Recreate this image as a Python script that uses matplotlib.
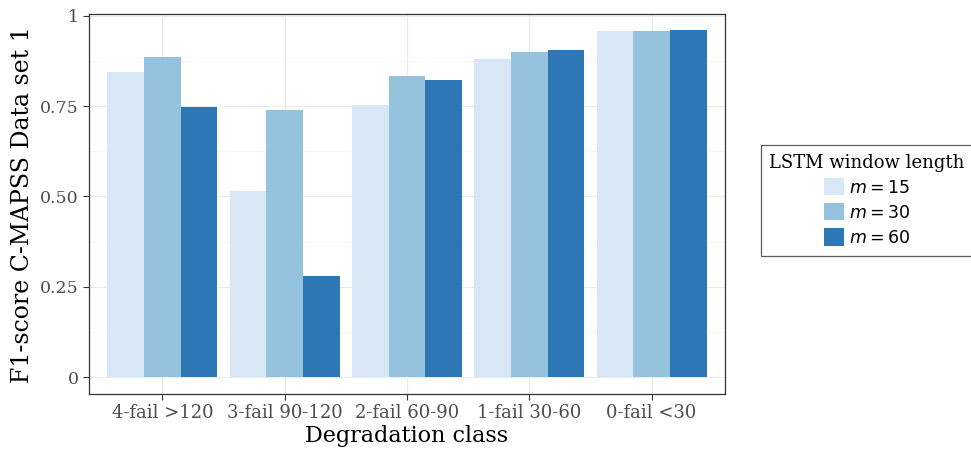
import matplotlib
matplotlib.use('Agg')
import matplotlib.pyplot as plt
import numpy as np

# data
classes = ["4-fail >120", "3-fail 90-120", "2-fail 60-90", "1-fail 30-60", "0-fail <30"]
f1_m15 = [0.845, 0.515, 0.753, 0.881, 0.957]
f1_m30 = [0.885, 0.740, 0.833, 0.899, 0.957]
f1_m60 = [0.748, 0.280, 0.822, 0.905, 0.960]
series_labels = ["$m = 15$", "$m = 30$", "$m = 60$"]
colors = ["#d8e7f5", "#95c3de", "#2d77b5"]

fig = plt.figure(figsize=(9.71, 4.55), dpi=100)
ax = fig.add_axes([0.0917, 0.134, 0.655, 0.835])

x = np.arange(len(classes))
width = 0.3
for i, (vals, lab, col) in enumerate(zip([f1_m15, f1_m30, f1_m60], series_labels, colors)):
    ax.bar(x + (i - 1) * width, vals, width, color=col, label=lab, zorder=2)

ax.set_xlim(-0.6, 4.6)
ax.set_ylim(-0.047, 1.005)

ax.set_yticks([0, 0.25, 0.5, 0.75, 1])
ax.set_yticklabels(["0", "0.25", "0.50", "0.75", "1"])
ax.set_yticks(np.arange(0.125, 1, 0.25), minor=True)
ax.set_xticks(x)
ax.set_xticklabels(classes)

# faint theme_bw style grid
ax.grid(True, which='major', color='#ebebeb', linewidth=0.8, zorder=0)
ax.grid(True, which='minor', axis='y', color='#f3f3f3', linewidth=0.5, zorder=0)
ax.tick_params(axis='y', which='minor', length=0)
ax.tick_params(which='major', length=4, color='#333333', labelcolor='#4d4d4d', labelsize=12.5)
ax.tick_params(axis='x', labelsize=13)
for lbl in ax.get_xticklabels() + ax.get_yticklabels():
    lbl.set_family('DejaVu Serif')

for sp in ax.spines.values():
    sp.set_color('#333333')
    sp.set_linewidth(0.9)

ax.set_xlabel("Degradation class", family='DejaVu Serif', fontsize=16, labelpad=2)
ax.set_ylabel("F1-score C-MAPSS Data set 1", family='DejaVu Serif', fontsize=17, labelpad=4)

handles, labels = ax.get_legend_handles_labels()
leg = fig.legend(handles, labels, title="LSTM window length", loc='center',
                 bbox_to_anchor=(0.893, 0.56), fontsize=12.5, frameon=True,
                 fancybox=False, edgecolor='#333333', handlelength=1.15,
                 handleheight=1.15, labelspacing=0.38, handletextpad=0.25,
                 borderpad=0.5)
leg.get_title().set_family('DejaVu Serif')
leg.get_title().set_fontsize(13)
leg.get_frame().set_linewidth(0.9)

plt.savefig("out.png", dpi=100)
plt.close()
